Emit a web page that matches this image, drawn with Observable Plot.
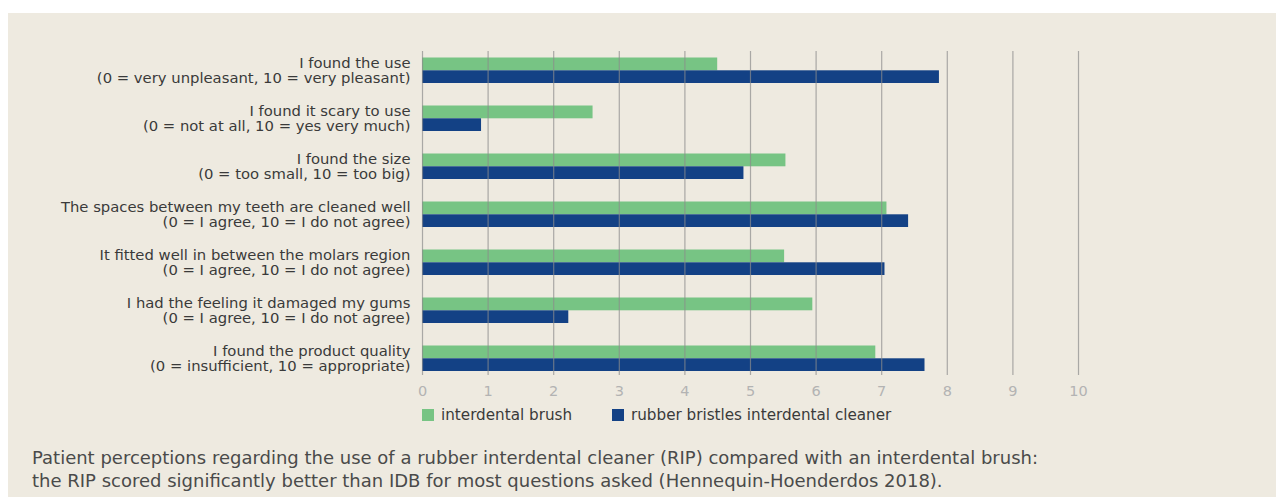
<!DOCTYPE html>
<html>
<head>
<meta charset="utf-8">
<script src="https://cdn.jsdelivr.net/npm/d3@7"></script>
<script src="https://cdn.jsdelivr.net/npm/@observablehq/plot@0.6"></script>
<style>
  html, body { margin: 0; padding: 0; background: #ffffff; width: 1276px; height: 503px; overflow: hidden; }
  #panel { position: absolute; left: 8px; top: 13px; width: 1268px; height: 484px; background: #EEEAE0; font-family: "DejaVu Sans", sans-serif; }
  #chart { position: absolute; left: 0; top: 0; }
  #legend { position: absolute; left: 414px; top: 393px; display: flex; font-size: 15.2px; color: #3a3a3a; }
  .item { display: flex; align-items: center; }
  .sw { width: 12px; height: 12px; margin-right: 7px; }
  #caption { position: absolute; left: 24px; top: 433px; font-size: 18px; line-height: 23px; color: #4a4a4a; }
</style>
</head>
<body>
<div id="panel">
  <div id="chart"></div>
  <div id="legend"></div>
  <div id="caption"></div>
</div>
<script>
const questions = [
  "I found the use\n(0 = very unpleasant, 10 = very pleasant)",
  "I found it scary to use\n(0 = not at all, 10 = yes very much)",
  "I found the size\n(0 = too small, 10 = too big)",
  "The spaces between my teeth are cleaned well\n(0 = I agree, 10 = I do not agree)",
  "It fitted well in between the molars region\n(0 = I agree, 10 = I do not agree)",
  "I had the feeling it damaged my gums\n(0 = I agree, 10 = I do not agree)",
  "I found the product quality\n(0 = insufficient, 10 = appropriate)"
];
const seriesNames = ["interdental brush", "rubber bristles interdental cleaner"];
const brushValues = [4.50, 2.60, 5.54, 7.08, 5.52, 5.95, 6.91];
const rubberValues = [7.88, 0.90, 4.90, 7.41, 7.05, 2.23, 7.66];
const xTicks = [0, 1, 2, 3, 4, 5, 6, 7, 8, 9, 10];
const captionLines = [
  "Patient perceptions regarding the use of a rubber interdental cleaner (RIP) compared with an interdental brush:",
  "the RIP scored significantly better than IDB for most questions asked (Hennequin-Hoenderdos 2018)."
];

const GREEN = "#77C484";
const BLUE = "#134185";

const brushRows = questions.map((q, i) => ({question: q, series: seriesNames[0], value: brushValues[i]}));
const rubberRows = questions.map((q, i) => ({question: q, series: seriesNames[1], value: rubberValues[i]}));

const chart = Plot.plot({
  width: 1268,
  height: 390,
  marginLeft: 414,
  marginRight: 198,
  marginTop: 33,
  marginBottom: 21,
  style: {background: "transparent", fontFamily: "DejaVu Sans, sans-serif", fontSize: "14px", overflow: "visible"},
  x: {domain: [0, 10], ticks: xTicks, tickSize: 0, tickPadding: 3, label: null, tickFormat: d => String(d)},
  y: {domain: questions, padding: 0, axis: null},
  marks: [
    Plot.barX(brushRows, {x: "value", y: "question", fill: GREEN, insetTop: 11.5, insetBottom: 23.7}),
    Plot.barX(rubberRows, {x: "value", y: "question", fill: BLUE, insetTop: 24.3, insetBottom: 11}),
    Plot.ruleX(xTicks, {x: d => d, stroke: "#8c8c8c", strokeOpacity: 0.7, strokeWidth: 1.2, insetTop: 5, insetBottom: 7}),
    Plot.text(questions, {y: d => d, text: d => d, frameAnchor: "left", textAnchor: "end", dx: -12, lineHeight: 1.05, fontSize: 14.8, fill: "#3a3a3a"})
  ]
});
const xAxisG = chart.querySelector("[aria-label='x-axis tick label']") || chart.querySelector("g[aria-label='x-axis']");
if (xAxisG) {
  xAxisG.setAttribute("fill", "#b3b3b3");
  xAxisG.setAttribute("font-size", "14.5");
  xAxisG.querySelectorAll("text").forEach(t => t.setAttribute("fill", "#b3b3b3"));
}
document.getElementById("chart").appendChild(chart);

const legend = document.getElementById("legend");
[[seriesNames[0], GREEN, 190], [seriesNames[1], BLUE, null]].forEach(([name, color, w]) => {
  const it = document.createElement("div");
  it.className = "item";
  if (w) it.style.width = w + "px";
  const sw = document.createElement("div");
  sw.className = "sw";
  sw.style.background = color;
  const tx = document.createElement("span");
  tx.textContent = name;
  it.appendChild(sw); it.appendChild(tx);
  legend.appendChild(it);
});
document.getElementById("caption").innerHTML = captionLines.map(l => `<div>${l}</div>`).join("");
</script>
</body>
</html>
